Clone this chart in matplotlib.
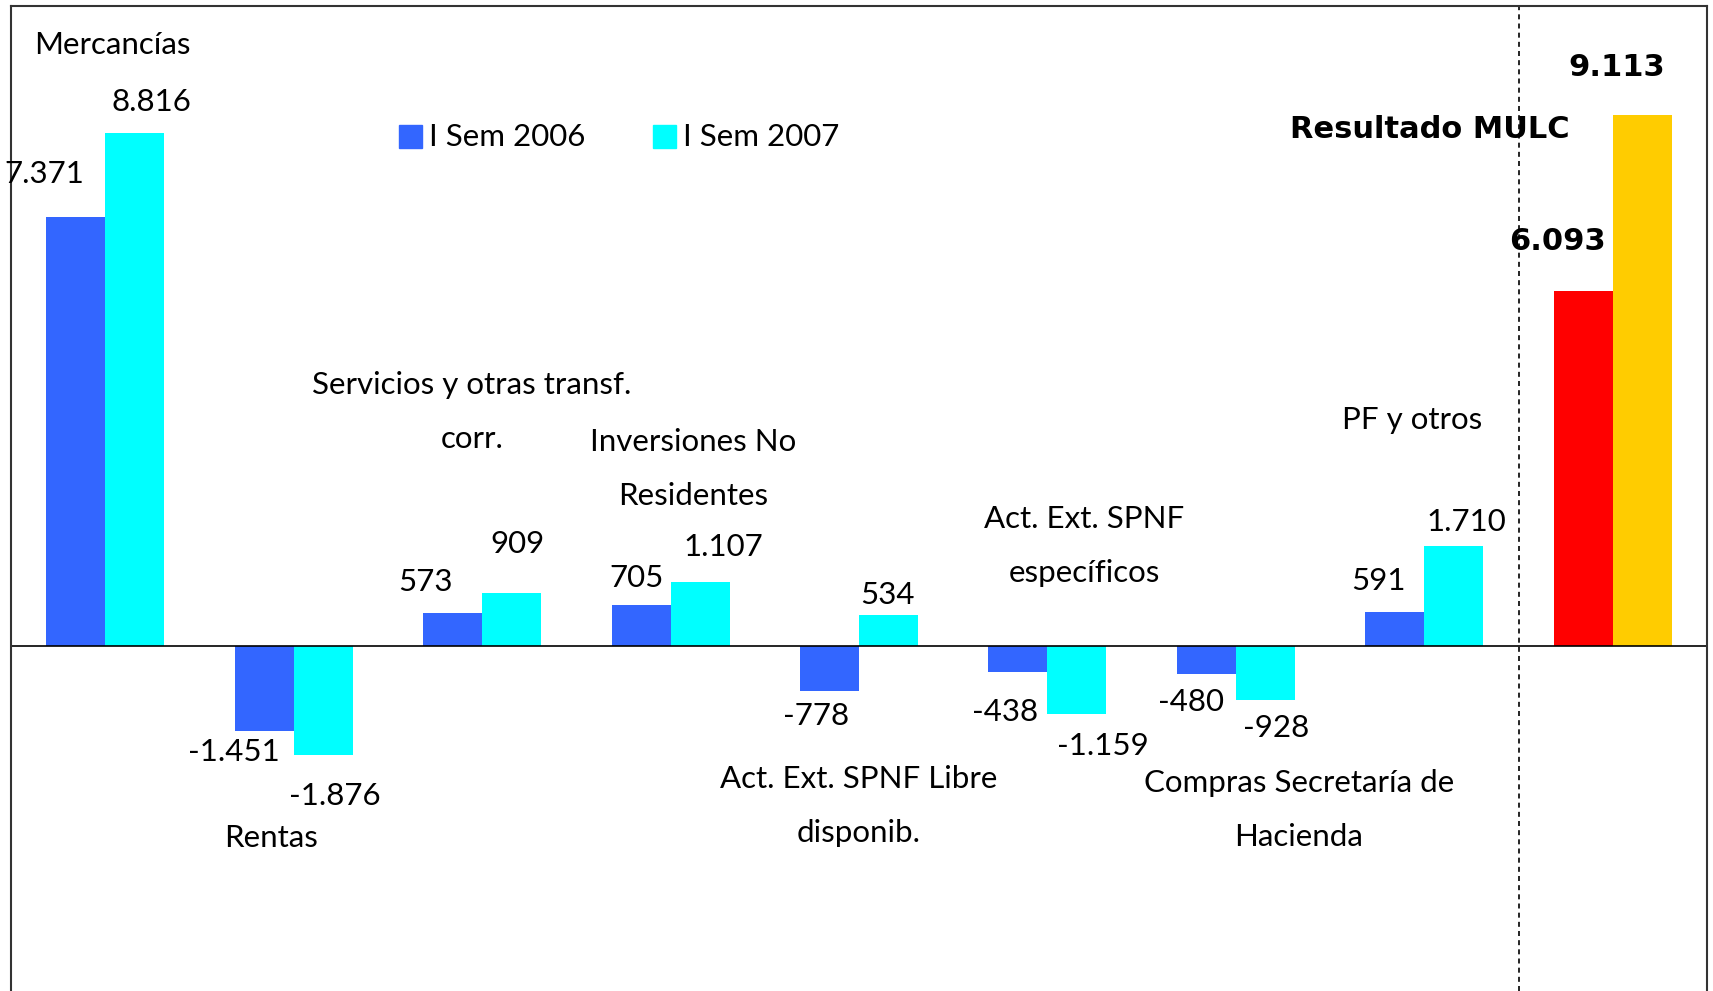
import numpy as np
import matplotlib.pyplot as plt
from matplotlib.patches import Rectangle

# Resultado del MULC, I Sem 2006 vs I Sem 2007 (millones de USD)
categorias = ['Mercancías', 'Rentas', 'Servicios y otras transf.\ncorr.',
              'Inversiones No\nResidentes', 'Act. Ext. SPNF Libre\ndisponib.',
              'Act. Ext. SPNF\nespecíficos', 'Compras Secretaría de\nHacienda',
              'PF y otros']
sem_2006 = [7371, -1451, 573, 705, -778, -438, -480, 591]
sem_2007 = [8816, -1876, 909, 1107, 534, -1159, -928, 1710]
mulc_2006 = 6093
mulc_2007 = 9113

W, H = 1713, 991
plt.rcParams['font.family'] = ['Lato', 'DejaVu Sans']
fs = 22.5

fig = plt.figure(figsize=(W / 100, H / 100), dpi=100)
ax = fig.add_axes([11 / W, 0, (1707 - 11) / W, 1 - 5.5 / H])

def px(x, y):
    # full-image pixel coords -> figure fraction
    return x / W, 1 - y / H

def fmt(v):
    return f'{v:,}'.replace(',', '.')

x = np.arange(len(categorias))
bw = 0.313
ax.bar(x - bw / 2, sem_2006, bw, color='#3366FF')
ax.bar(x + bw / 2, sem_2007, bw, color='#00FFFF')
ax.bar(8 - bw / 2, mulc_2006, bw, color='#FF0000')
ax.bar(8 + bw / 2, mulc_2007, bw, color='#FFCC00')

ax.set_xlim(-0.5, 8.5)
ax.set_ylim(-5923, 11000)
ax.axhline(0, color='black', lw=1.2)
ax.axvline(7.5, color='black', lw=1.2, ls=(0, (3, 2.5)))
ax.set_xticks([])
ax.set_yticks([])
for s in ['left', 'top', 'right']:
    ax.spines[s].set_color('#333333')
    ax.spines[s].set_linewidth(1.5)
ax.spines['bottom'].set_visible(False)

# category labels (pixel centres)
cat_pos = [(112, 45), (271, 838), (472, 412), (693, 469), (859, 806),
           (1084, 546), (1299, 810), (1412, 420)]
for lab, (cx, cy) in zip(categorias, cat_pos):
    fig.text(*px(cx, cy), lab, ha='center', va='center', fontsize=fs,
             linespacing=2.1)

# value labels
pos_2006 = [(44, 174), (234, 752), (425, 582), (637, 578), (816, 716),
            (1005, 712), (1191, 702), (1378, 581)]
pos_2007 = [(151, 102), (335, 796), (518, 544), (723, 547), (887, 595),
            (1103, 746), (1276, 728), (1466, 522)]
for v, (cx, cy) in zip(sem_2006, pos_2006):
    fig.text(*px(cx, cy), fmt(v), ha='center', va='center', fontsize=fs)
for v, (cx, cy) in zip(sem_2007, pos_2007):
    fig.text(*px(cx, cy), fmt(v), ha='center', va='center', fontsize=fs)

bold = dict(ha='center', va='center', fontsize=22, fontweight='bold',
            family=['DejaVu Sans'])
fig.text(*px(1430, 130), 'Resultado MULC', **bold)
fig.text(*px(1557, 241), fmt(mulc_2006), **bold)
fig.text(*px(1617, 67), fmt(mulc_2007), **bold)

# legend
for (sx, col, lab) in [(399, '#3366FF', 'I Sem 2006'), (653, '#00FFFF', 'I Sem 2007')]:
    fx, fy = px(sx, 148)
    fig.patches.append(Rectangle((fx, fy), 23 / W, 23 / H, color=col,
                                 transform=fig.transFigure, figure=fig))
    fig.text(*px(sx + 30, 137), lab, ha='left', va='center', fontsize=fs)

fig.savefig('out.png', dpi=100)
